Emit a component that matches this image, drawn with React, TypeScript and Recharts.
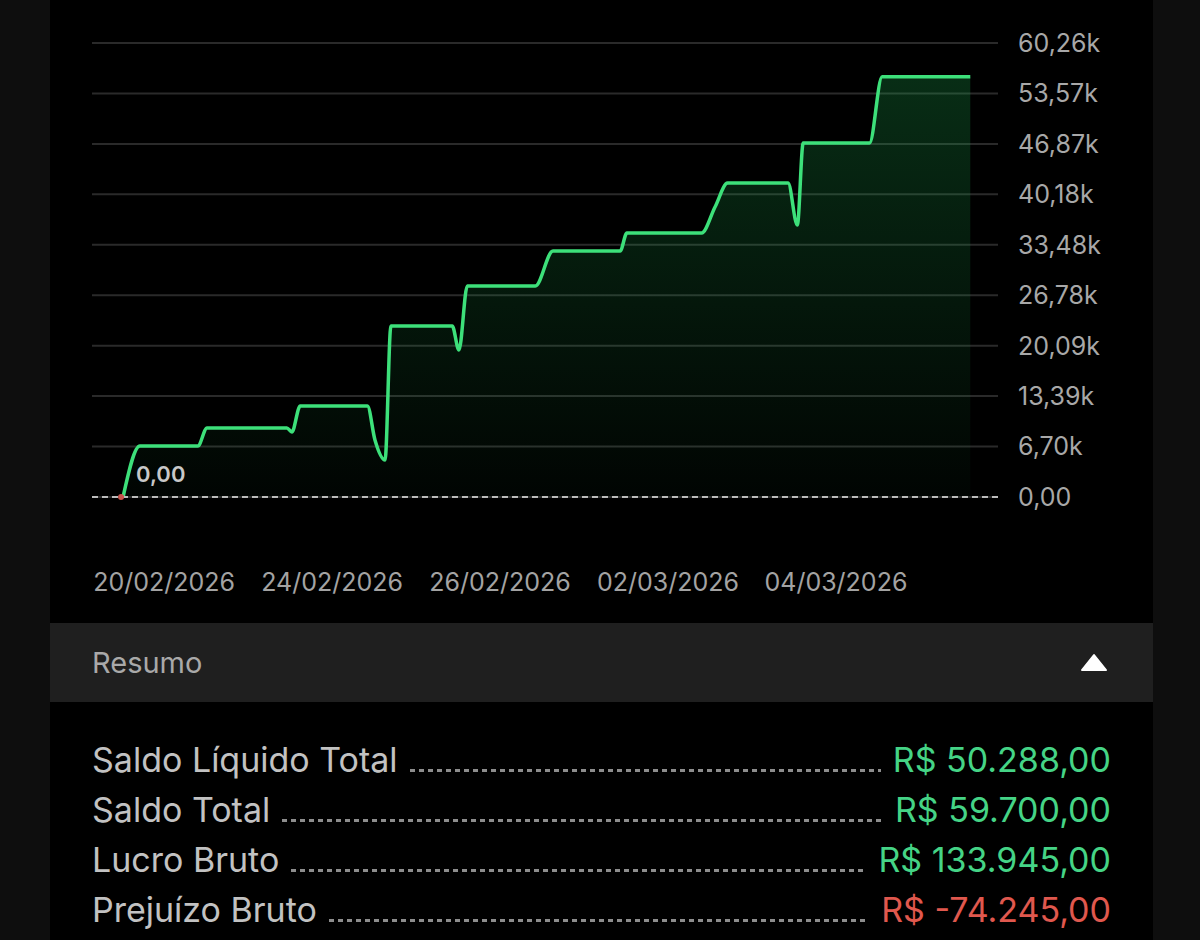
import { Area, AreaChart, CartesianGrid, ReferenceDot, ReferenceLine, XAxis, YAxis } from 'recharts';

// trading days shown on the axis (weekends skipped)
const tradingDays = [
  '20/02/2026', '23/02/2026', '24/02/2026', '25/02/2026', '26/02/2026',
  '27/02/2026', '02/03/2026', '03/03/2026', '04/03/2026', '05/03/2026',
];
const dayTicks = [0, 2, 4, 6, 8];

// time in trading days since 20/02 and running balance (R$)
const tradeTimes = [
  -0.49, -0.29, 0.4, 0.51, 1.46, 1.52, 1.62, 2.42, 2.51, 2.63, 2.7, 3.43, 3.51, 3.61,
  4.42, 4.63, 5.43, 5.51, 6.4, 6.56, 6.71, 7.43, 7.54, 7.61, 8.4, 8.55, 9.6,
];
const balances = [
  0, 6770, 6770, 9160, 9160, 8630, 12080, 12080, 7570, 4910, 22700, 22700, 19510, 28010,
  28010, 32650, 32650, 35040, 35040, 38500, 41680, 41680, 36110, 46990, 46990, 55800, 55800,
];

const yTicks = [0, 6696, 13392, 20088, 26784, 33480, 40176, 46872, 53568, 60264];

const summaryLabels = ['Saldo Líquido Total', 'Saldo Total', 'Lucro Bruto', 'Prejuízo Bruto'];
const summaryValues = [50288, 59700, 133945, -74245];

const data = tradeTimes.map((t, i) => ({ t, saldo: balances[i] }));

const fmtK = (v: number) => (v === 0 ? '0,00' : (v / 1000).toFixed(2).replace('.', ',') + 'k');

const fmtBRL = (v: number) => {
  const [int, dec] = Math.abs(v).toFixed(2).split('.');
  return `R$ ${v < 0 ? '-' : ''}${int.replace(/\B(?=(\d{3})+(?!\d))/g, '.')},${dec}`;
};

const StartMarker = (props: any) => {
  const { cx, cy } = props;
  return (
    <g>
      <circle cx={cx - 2} cy={cy} r={3} fill="#c9544c" />
      <text x={cx + 13} y={cy - 15} fill="#c8c8c8" fontSize={22} fontWeight={600}>
        {fmtK(balances[0])}
      </text>
    </g>
  );
};

const App = () => {
  return (
    <div
      style={{
        width: 1200,
        height: 940,
        background: '#0e0e0e',
        position: 'relative',
        overflow: 'hidden',
        fontFamily: 'Inter, "Noto Sans", sans-serif',
      }}
    >
      <style>{'body{margin:0}'}</style>
      <div style={{ position: 'absolute', left: 50, top: 0, width: 1103, height: 940, background: '#000' }}>
        <AreaChart width={1103} height={620} data={data} margin={{ top: 43, right: 0, bottom: 0, left: 42 }}>
          <defs>
            <linearGradient id="fillSaldo" x1="0" y1="0" x2="0" y2="1">
              <stop offset="0%" stopColor="#1fb455" stopOpacity={0.42} />
              <stop offset="100%" stopColor="#1fb455" stopOpacity={0.04} />
            </linearGradient>
          </defs>
          <CartesianGrid vertical={false} stroke="#2a2a2a" strokeWidth={2} />
          <XAxis
            type="number"
            dataKey="t"
            domain={[-0.86, 9.93]}
            ticks={dayTicks}
            tickFormatter={(t: number) => tradingDays[t]}
            axisLine={false}
            tickLine={false}
            tickSize={0}
            tickMargin={76}
            height={123}
            tick={{ fill: '#a3a3a3', fontSize: 25 }}
          />
          <YAxis
            orientation="right"
            domain={[0, 60264]}
            ticks={yTicks}
            tickFormatter={fmtK}
            axisLine={false}
            tickLine={false}
            tickSize={0}
            tickMargin={20}
            width={155}
            tick={{ fill: '#a8a8a8', fontSize: 25, textAnchor: 'start' }}
          />
          <ReferenceLine y={0} stroke="#bcbcbc" strokeWidth={2} strokeDasharray="6 4" />
          <Area
            type="monotone"
            dataKey="saldo"
            stroke="#3de07a"
            strokeWidth={3.5}
            fill="url(#fillSaldo)"
            dot={false}
            activeDot={false}
            isAnimationActive={false}
          />
          <ReferenceDot x={tradeTimes[0]} y={balances[0]} shape={StartMarker} />
        </AreaChart>

        <div
          style={{
            position: 'absolute',
            left: 0,
            top: 623,
            width: 1103,
            height: 79,
            background: '#1f1f1f',
            display: 'flex',
            alignItems: 'center',
          }}
        >
          <span style={{ marginLeft: 42, fontSize: 29, color: '#a9a9a9' }}>Resumo</span>
          <svg style={{ position: 'absolute', left: 1030, top: 30 }} width={28} height={20}>
            <polygon points="14,2 26,17 2,17" fill="#fff" stroke="#fff" strokeWidth={2} strokeLinejoin="round" />
          </svg>
        </div>

        {summaryLabels.map((label, i) => (
          <div
            key={label}
            style={{
              position: 'absolute',
              left: 42,
              width: 1019,
              top: 739 + i * 50,
              height: 50,
              display: 'flex',
              alignItems: 'baseline',
              fontSize: 34,
            }}
          >
            <span style={{ color: '#c2c2c2' }}>{label}</span>
            <span
              style={{
                flex: 1,
                height: 3,
                margin: '0 12px',
                backgroundImage: 'repeating-linear-gradient(to right, #8d8d8d 0 5px, transparent 5px 9px)',
              }}
            />
            <span style={{ color: summaryValues[i] < 0 ? '#e0584e' : '#45d486' }}>{fmtBRL(summaryValues[i])}</span>
          </div>
        ))}
      </div>
    </div>
  );
};

export default App;
